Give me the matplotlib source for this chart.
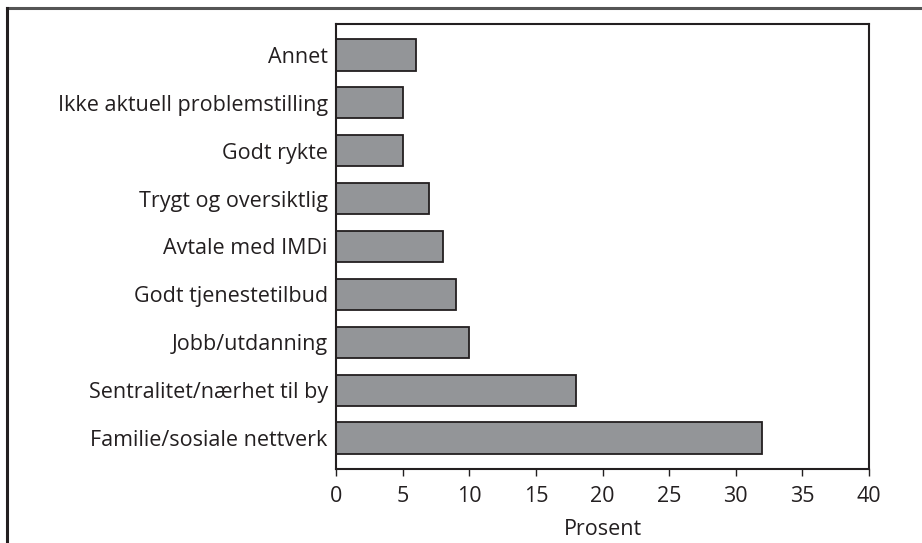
import matplotlib.pyplot as plt
from matplotlib.lines import Line2D

plt.rcParams['font.family'] = ['Open Sans', 'DejaVu Sans']

# data, top to bottom as in the chart
categories = ["Annet", "Ikke aktuell problemstilling", "Godt rykte",
              "Trygt og oversiktlig", "Avtale med IMDi", "Godt tjenestetilbud",
              "Jobb/utdanning", "Sentralitet/nærhet til by",
              "Familie/sosiale nettverk"]
values = [6, 5, 5, 7, 8, 9, 10, 18, 32]
xticks = [0, 5, 10, 15, 20, 25, 30, 35, 40]

txt = '#231f20'
fs = 15.5
W, H = 922, 543
fig = plt.figure(figsize=(W / 100, H / 100), dpi=100)
ax = fig.add_axes([336 / W, 1 - 469 / H, (869 - 336) / W, (469 - 24) / H])

ypos = list(range(len(categories)))
ax.barh(ypos, values, height=0.66, color='#939598', edgecolor=txt,
        linewidth=1.3)
ax.set_yticks(ypos)
ax.set_yticklabels(categories, fontsize=fs, color=txt)
ax.set_ylim(len(categories) - 0.36, -0.64)
ax.set_xlim(0, 40)
ax.set_xticks(xticks)
ax.set_xticklabels([str(t) for t in xticks], fontsize=fs, color=txt)
ax.tick_params(axis='y', length=0, pad=6)
ax.tick_params(axis='x', length=5, width=1, color=txt, pad=7)
ax.set_xlabel("Prosent", fontsize=fs, color=txt, labelpad=9)
for s in ax.spines.values():
    s.set_color(txt)
    s.set_linewidth(1.5)

# outer frame (top and left edges visible)
fig.add_artist(Line2D([7 / W, 1], [1 - 8 / H, 1 - 8 / H], color='#555555',
                      lw=2.2, transform=fig.transFigure))
fig.add_artist(Line2D([7 / W, 7 / W], [0, 1 - 8 / H], color=txt,
                      lw=2.2, transform=fig.transFigure))

fig.savefig('out.png', dpi=100)
